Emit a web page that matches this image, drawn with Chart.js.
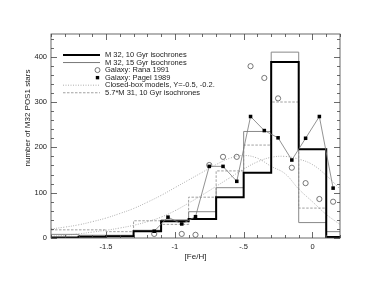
<!DOCTYPE html>
<html>
<head>
<meta charset="utf-8">
<script src="https://cdn.jsdelivr.net/npm/chart.js@4.4.1/dist/chart.umd.min.js"></script>
<style>
  html, body { margin: 0; padding: 0; background: #fff; }
  #wrap { width: 374px; height: 289px; }
</style>
</head>
<body>
<div id="wrap"><canvas id="c" width="374" height="289"></canvas></div>
<script>
// bin edges of the histograms ([Fe/H])
var binEdges = [-1.9, -1.7, -1.5, -1.3, -1.1, -0.9, -0.7, -0.5, -0.3, -0.1, 0.1, 0.3];
// M 32, 10 Gyr isochrones
var m32_10 = [1, 3, 4, 15, 37, 42, 90, 144, 388, 196, 2];
// M 32, 15 Gyr isochrones
var m32_15 = [8, 6, 6, 17, 40, 58, 111, 235, 410, 34, 14];
// 5.7*M 31, 10 Gyr isochrones
var m31 = [18, 18, 14, 38, 30, 90, 148, 205, 300, 66, 2];

// Galaxy: Rana 1991
var ranaX = [-1.15, -0.95, -0.85, -0.75, -0.65, -0.55, -0.45, -0.35, -0.25, -0.15, -0.05, 0.05, 0.15];
var ranaY = [9, 9, 7, 161, 179, 179, 379, 353, 308, 155, 121, 86, 80];
// Galaxy: Pagel 1989
var pagelX = [-1.15, -1.05, -0.95, -0.85, -0.75, -0.65, -0.55, -0.45, -0.35, -0.25, -0.15, -0.05, 0.05, 0.15];
var pagelY = [15, 46, 31, 47, 158, 158, 125, 268, 237, 221, 172, 220, 268, 110];

// closed-box models
var boxX = [-1.9, -1.8, -1.7, -1.6, -1.5, -1.4, -1.3, -1.2, -1.1, -1.0, -0.9, -0.8, -0.7, -0.6, -0.5, -0.4, -0.3, -0.2, -0.1, 0.0, 0.1, 0.2];
var boxA = [20, 24, 29, 36, 44, 54, 65, 79, 94, 111, 128, 145, 162, 176, 182, 176, 158, 142, 108, 80, 52, 30];
var boxB = [4, 6, 9, 13, 17, 22, 28, 36, 46, 60, 77, 95, 114, 133, 152, 168, 178, 180, 174, 162, 138, 108];

var xTicks = [-1.5, -1, -0.5, 0];
var yTicks = [0, 100, 200, 300, 400];

var legendItems = [
  {text: 'M 32, 10 Gyr isochrones', kind: 'thick'},
  {text: 'M 32, 15 Gyr isochrones', kind: 'thin'},
  {text: 'Galaxy: Rana 1991', kind: 'circle'},
  {text: 'Galaxy: Pagel 1989', kind: 'square'},
  {text: 'Closed-box models, Y=-0.5, -0.2.', kind: 'dotted'},
  {text: '5.7*M 31, 10 Gyr isochrones', kind: 'dashed'}
];

var FONT = "'Liberation Sans', Arial, Helvetica, sans-serif";

function hist(vals) {
    var pts = vals.map((v, i) => ({x: binEdges[i], y: v}));
    pts.push({x: binEdges[vals.length], y: vals[vals.length - 1]});
    return pts;
}
function xy(xs, ys) { return xs.map((x, i) => ({x: x, y: ys[i]})); }

// ---------- frame, ticks, titles, legend ----------
var framePlugin = {
    id: 'frame',
    afterDraw: function(chart) {
        var ctx = chart.ctx, a = chart.chartArea;
        var xs = chart.scales.x, ys = chart.scales.y;
        ctx.save();
        ctx.strokeStyle = '#444';
        ctx.lineWidth = 0.8;
        ctx.strokeRect(a.left, a.top, a.right - a.left, a.bottom - a.top);
        ctx.beginPath();
        for (var i = -19; i <= 2; i++) {
            var v = i / 10;
            var px = Math.round(xs.getPixelForValue(v)) + 0.5;
            var len = (i % 5 === 0) ? 6 : 3;
            ctx.moveTo(px, a.bottom); ctx.lineTo(px, a.bottom - len);
            ctx.moveTo(px, a.top); ctx.lineTo(px, a.top + len);
        }
        for (var j = 0; j <= 440; j += 20) {
            var py = Math.round(ys.getPixelForValue(j)) + 0.5;
            var l2 = (j % 100 === 0) ? 6 : 3;
            ctx.moveTo(a.left, py); ctx.lineTo(a.left + l2, py);
            ctx.moveTo(a.right, py); ctx.lineTo(a.right - l2, py);
        }
        ctx.stroke();

        // axis titles
        ctx.fillStyle = '#222';
        ctx.font = '8px ' + FONT;
        ctx.textAlign = 'center';
        ctx.textBaseline = 'middle';
        ctx.fillText('[Fe/H]', (a.left + a.right) / 2, 257);
        ctx.save();
        ctx.translate(28, 118);
        ctx.rotate(-Math.PI / 2);
        ctx.fillText('number of M32 POS1 stars', 0, 0);
        ctx.restore();

        // legend
        ctx.font = '7.5px ' + FONT;
        ctx.textAlign = 'left';
        legendItems.forEach(function(it, k) {
            var y = 55 + k * 7.55;
            ctx.save();
            ctx.beginPath();
            if (it.kind === 'thick') { ctx.strokeStyle = '#000'; ctx.lineWidth = 2; }
            else if (it.kind === 'thin') { ctx.strokeStyle = '#777'; ctx.lineWidth = 1; }
            else if (it.kind === 'dotted') { ctx.strokeStyle = '#999'; ctx.lineWidth = 0.8; ctx.setLineDash([1, 1.5]); }
            else if (it.kind === 'dashed') { ctx.strokeStyle = '#888'; ctx.lineWidth = 0.8; ctx.setLineDash([2.5, 1.5]); }
            if (it.kind === 'circle') {
                ctx.strokeStyle = '#555'; ctx.lineWidth = 0.8;
                ctx.arc(97.5, y, 2.5, 0, Math.PI * 2); ctx.stroke();
            } else if (it.kind === 'square') {
                ctx.fillStyle = '#000'; ctx.fillRect(95.8, y - 1.7, 3.4, 3.4);
            } else {
                ctx.moveTo(63, y); ctx.lineTo(100, y); ctx.stroke();
            }
            ctx.restore();
            ctx.fillStyle = '#222';
            ctx.fillText(it.text, 105, y);
        });
        ctx.restore();
    }
};

var ctx = document.getElementById('c').getContext('2d');
var chart = new Chart(ctx, {
    type: 'scatter',
    data: {
        datasets: [
            {label: 'Galaxy: Pagel 1989', data: xy(pagelX, pagelY), showLine: true,
             borderColor: '#777', borderWidth: 0.8, pointStyle: 'rect', pointRadius: 2.5,
             pointBackgroundColor: '#000', pointBorderColor: '#000', pointBorderWidth: 0},
            {label: 'Galaxy: Rana 1991', data: xy(ranaX, ranaY), showLine: false,
             pointStyle: 'circle', pointRadius: 2.6, pointBackgroundColor: 'rgba(0,0,0,0)',
             pointBorderColor: '#555', pointBorderWidth: 0.8},
            {label: 'M 32, 10 Gyr isochrones', data: hist(m32_10), showLine: true, stepped: 'before',
             borderColor: '#000', borderWidth: 2, pointRadius: 0},
            {label: 'M 32, 15 Gyr isochrones', data: hist(m32_15), showLine: true, stepped: 'before',
             borderColor: '#888', borderWidth: 1, pointRadius: 0},
            {label: '5.7*M 31, 10 Gyr isochrones', data: hist(m31), showLine: true, stepped: 'before',
             borderColor: '#888', borderWidth: 0.8, borderDash: [2.5, 1.5], pointRadius: 0},
            {label: 'Closed-box Y=-0.5', data: xy(boxX, boxA), showLine: true, tension: 0.4,
             borderColor: '#999', borderWidth: 0.8, borderDash: [1, 1.5], pointRadius: 0},
            {label: 'Closed-box Y=-0.2', data: xy(boxX, boxB), showLine: true, tension: 0.4,
             borderColor: '#999', borderWidth: 0.8, borderDash: [1, 1.5], pointRadius: 0}
        ]
    },
    options: {
        responsive: false,
        animation: false,
        layout: { padding: {top: 34, right: 34, bottom: 0, left: 0} },
        plugins: { legend: {display: false}, tooltip: {enabled: false} },
        scales: {
            x: {
                type: 'linear', min: -1.9, max: 0.2,
                grid: {display: false, drawTicks: false},
                border: {display: false},
                afterBuildTicks: function(s) { s.ticks = xTicks.map(v => ({value: v})); },
                afterFit: function(s) { s.height = 51; },
                ticks: {
                    padding: 4, color: '#222', font: {size: 7.5, family: FONT},
                    maxRotation: 0, autoSkip: false,
                    callback: function(v) { return v === 0 ? '0' : String(v).replace('0.', '.'); }
                }
            },
            y: {
                min: 0, max: 450,
                grid: {display: false, drawTicks: false},
                border: {display: false},
                afterBuildTicks: function(s) { s.ticks = yTicks.map(v => ({value: v})); },
                afterFit: function(s) { s.width = 51; },
                ticks: { padding: 4, color: '#222', font: {size: 7.5, family: FONT} }
            }
        }
    },
    plugins: [framePlugin]
});
</script>
</body>
</html>
